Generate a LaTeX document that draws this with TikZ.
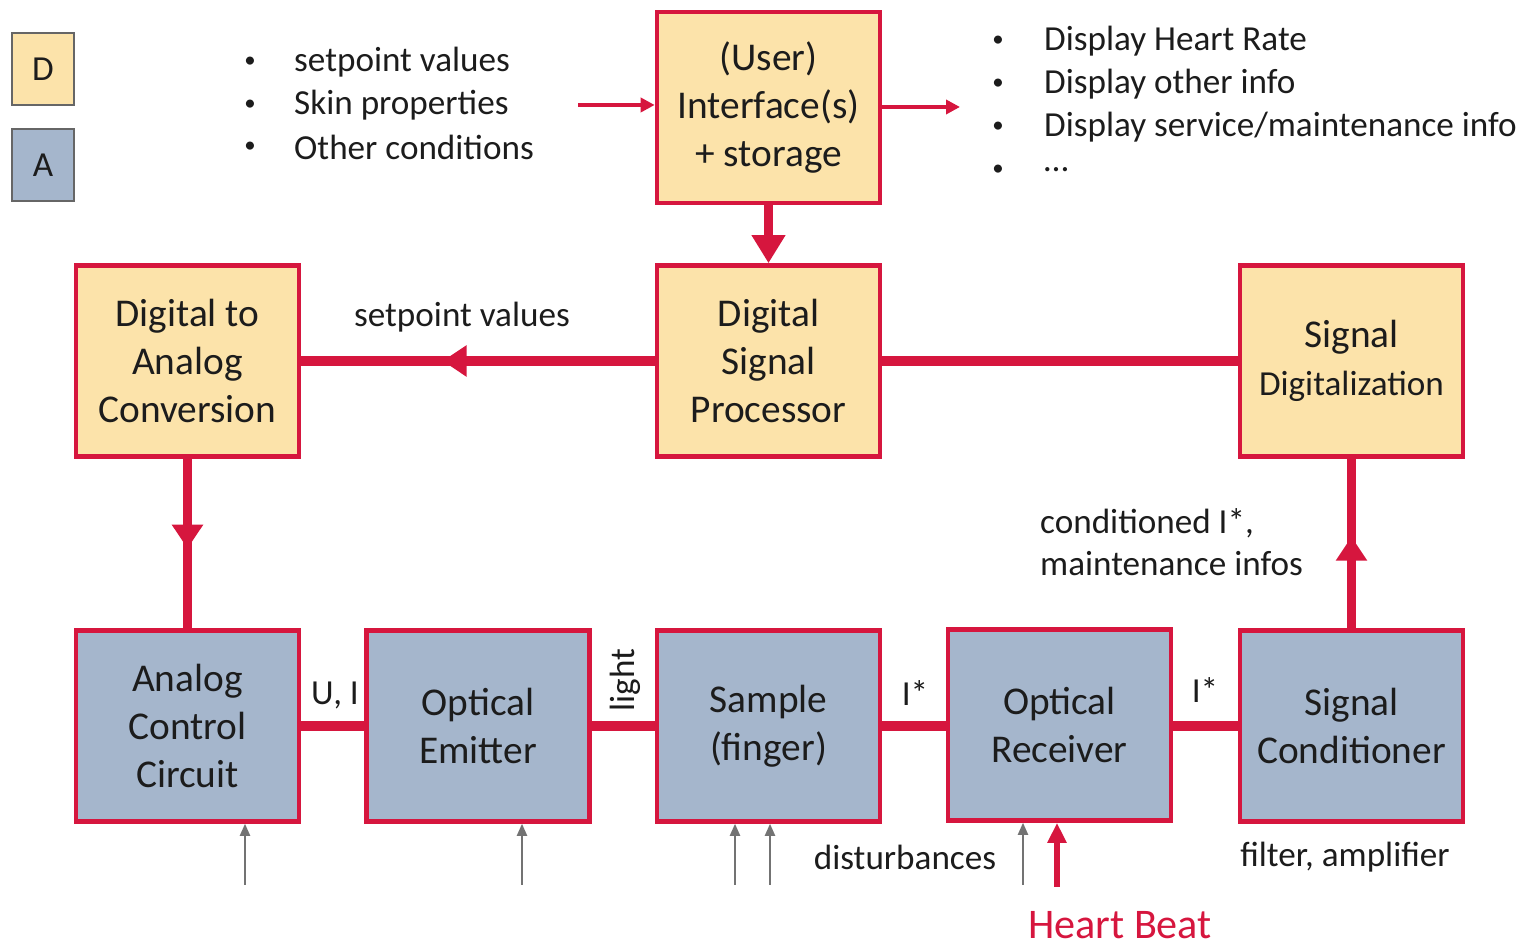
\documentclass[tikz,border=0pt]{standalone}
\usepackage{fontspec}
\setmainfont{Carlito}
\usepackage{tikz}
\usetikzlibrary{arrows.meta,decorations.markings}
\definecolor{SigRed}{RGB}{214,22,62}
\definecolor{DigiFill}{RGB}{252,227,170}
\definecolor{AnaFill}{RGB}{165,182,204}
\definecolor{InkGrey}{RGB}{28,28,28}

\begin{document}
\begin{tikzpicture}[
    blk/.style={draw=SigRed, line width=1.3pt, minimum width=2.23cm, minimum height=1.91cm,
      inner sep=0pt, align=center, text=InkGrey, font=\fontsize{11.2}{13.7}\selectfont},
    dblk/.style={blk, fill=DigiFill},
    ablk/.style={blk, fill=AnaFill},
    legendbox/.style={draw=black!60, line width=0.6pt, minimum width=0.62cm, minimum height=0.72cm,
      inner sep=0pt, text=InkGrey, font=\fontsize{10}{12}\selectfont},
    bus/.style={SigRed, line width=2.7pt},
    midarrow/.style={bus, postaction={decorate},
      decoration={markings, mark=at position #1 with {\arrow{Triangle[length=0.24cm,width=0.3cm]}}}},
    thinarrow/.style={SigRed, line width=1.1pt, -{Triangle[length=0.14cm,width=0.14cm]}},
    distarrow/.style={black!55, line width=0.6pt, -{Triangle[length=0.12cm,width=0.1cm]}},
    hbarrow/.style={SigRed, line width=1.6pt, -{Triangle[length=0.2cm,width=0.18cm]}},
    lbl/.style={text=InkGrey, font=\fontsize{10}{12}\selectfont, inner sep=1pt},
    bul/.style={text=InkGrey, font=\fontsize{6.5}{8}\selectfont, inner sep=1pt}
  ]
    \useasboundingbox (0,0) rectangle (15.26,9.47);

    % Legend
    \node[legendbox, fill=DigiFill] (legd) at (0.43,8.78) {D};
    \node[legendbox, fill=AnaFill] (lega) at (0.43,7.82) {A};

    % Digital blocks
    \node[dblk] (iface) at (7.685,8.395) {(User)\\Interface(s)\\+ storage};
    \node[dblk] (dac) at (1.875,5.86) {Digital to\\Analog\\Conversion};
    \node[dblk] (dsp) at (7.685,5.86) {Digital\\Signal\\Processor};
    \node[dblk] (sdig) at (13.515,5.86) {Signal\\{\fontsize{10}{12}\selectfont Digitalization}};

    % Analog blocks
    \node[ablk] (acc) at (1.875,2.21) {Analog\\Control\\Circuit};
    \node[ablk] (emit) at (4.78,2.21) {Optical\\Emitter};
    \node[ablk] (samp) at (7.685,2.21) {Sample\\(finger)};
    \node[ablk] (recv) at (10.595,2.22) {Optical\\Receiver};
    \node[ablk] (cond) at (13.515,2.21) {Signal\\Conditioner};

    % Inputs and outputs of the interface
    \foreach \txt [count=\i] in {setpoint values, Skin properties, Other conditions}{
      \node[bul] (inb\i) at (2.50,9.27-0.425*\i) {\textbullet};
      \node[lbl, anchor=west] (inl\i) at (2.90,9.27-0.425*\i) {\txt};
    }
    \foreach \txt [count=\i] in {Display Heart Rate, Display other info, Display service/maintenance info, \ldots}{
      \node[bul] (outb\i) at (9.98,9.49-0.43*\i) {\textbullet};
      \node[lbl, anchor=west] (outl\i) at (10.40,9.49-0.43*\i) {\txt};
    }
    \coordinate (infeed) at (5.78,8.42);
    \coordinate (outfeed) at (9.60,8.40);
    \draw[thinarrow] (infeed) -- (infeed -| iface.west);
    \draw[thinarrow] (outfeed -| iface.east) -- (outfeed);

    % Signal path
    \draw[bus, -{Triangle[length=0.28cm,width=0.32cm]}] (iface.south) -- (dsp.north);
    \draw[midarrow=0.6] (dsp.west) -- (dac.east);
    \draw[bus] (dsp.east) -- (sdig.west);
    \draw[midarrow=0.53] (dac.south) -- (acc.north);
    \draw[midarrow=0.54] (cond.north) -- (sdig.south);
    \draw[bus] (acc.east) -- (emit.west);
    \draw[bus] (emit.east) -- (samp.west);
    \draw[bus] (samp.east) -- (samp.east -| recv.west);
    \draw[bus] (cond.west |- samp.east) -- (samp.east -| recv.east);

    % Connector labels
    \node[lbl] (spv) at (4.62,6.30) {setpoint values};
    \node[lbl] (ui) at (3.35,2.52) {U, I};
    \node[lbl, rotate=90] (lightlbl) at (6.25,2.67) {light};
    \node[lbl] (istara) at (9.15,2.54) {I*};
    \node[lbl] (istarb) at (12.05,2.57) {I*};
    \node[lbl, align=left, anchor=west] (condlbl) at (10.36,4.045) {conditioned I*,\\maintenance infos};

    % Disturbances
    \foreach \x/\b in {2.45/acc, 5.22/emit, 7.35/samp, 7.70/samp, 10.23/recv}{
      \coordinate (dst) at (\x,0.62);
      \draw[distarrow] (dst) -- (dst |- \b.south);
    }
    \coordinate (hbfoot) at (10.57,0.60);
    \draw[hbarrow] (hbfoot) -- (hbfoot |- recv.south);
    \node[lbl] (dist) at (9.05,0.90) {disturbances};
    \node[lbl] (filt) at (13.45,0.90) {filter, amplifier};
    \node[lbl, text=SigRed, font=\fontsize{12}{14}\selectfont] (hb) at (11.20,0.22) {Heart Beat};
  \end{tikzpicture}
\end{document}
